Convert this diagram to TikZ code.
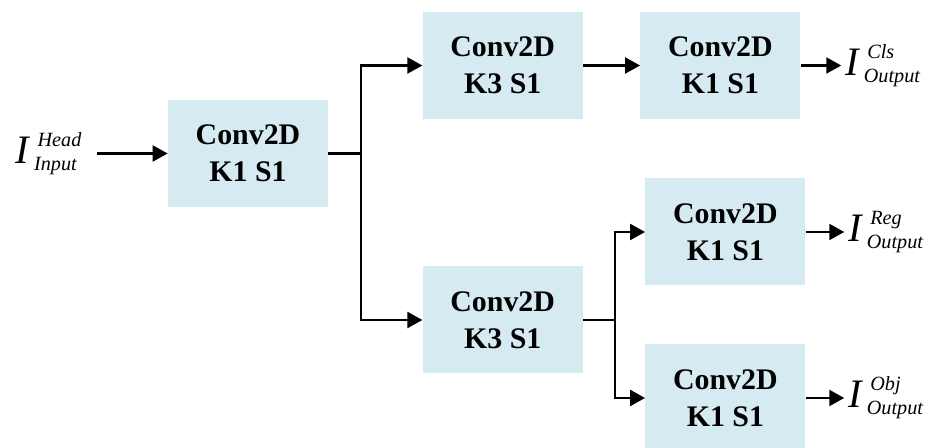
\documentclass[tikz,border=0pt]{standalone}
\usepackage{fontspec}
\setmainfont{Liberation Serif}
\usepackage{xcolor}
\usepackage{tikz}
\usetikzlibrary{positioning, arrows.meta}

\definecolor{convblue}{RGB}{213,234,241}
\newcommand{\featmap}[2]{{\fontsize{23}{23}\selectfont\itshape I}\kern3pt{\fontsize{11.5}{12}\selectfont\itshape\rlap{\kern2pt\raisebox{0.34cm}{#1}}\raisebox{-0.14cm}{#2}}}

\begin{document}
\begin{tikzpicture}[
        conv/.style={fill=convblue, minimum width=3.2cm, minimum height=2.14cm, inner sep=0pt, align=center, font=\fontsize{17}{21}\selectfont\bfseries},
        lbl/.style={inner sep=0pt},
        to/.style={-{Triangle[length=0.3cm,width=0.32cm]}, line width=0.045cm},
        ]
      \useasboundingbox (0,0) rectangle (18.68,-8.96);

      \node [conv] (conv-in) at (4.96,-3.07) {Conv2D\\K1 S1};
      \node [conv, right=1.88cm of conv-in, yshift=1.76cm] (cls-k3) {Conv2D\\K3 S1};
      \node [conv, right=1.14cm of cls-k3] (cls-k1) {Conv2D\\K1 S1};
      \node [conv, right=1.88cm of conv-in, yshift=-3.33cm] (reg-k3) {Conv2D\\K3 S1};
      \node [conv, right=1.24cm of reg-k3, yshift=1.76cm] (reg-k1) {Conv2D\\K1 S1};
      \node [conv, right=1.24cm of reg-k3, yshift=-1.56cm] (obj-k1) {Conv2D\\K1 S1};

      \node [lbl, anchor=west] (in-head) at (0.3,-3.07) {\featmap{Head}{Input}};
      \node [lbl, right=0.88cm of cls-k1] (out-cls) {\featmap{Cls}{Output}};
      \node [lbl, right=0.84cm of reg-k1] (out-reg) {\featmap{Reg}{Output}};
      \node [lbl, right=0.84cm of obj-k1] (out-obj) {\featmap{Obj}{Output}};

      \coordinate [right=0.66cm of conv-in] (split-in);
      \coordinate [right=0.64cm of reg-k3] (split-reg);

      \draw[to, shorten <=0.4cm] (in-head) -- (conv-in);
      \draw[to] (conv-in) -- (split-in) |- (cls-k3);
      \draw[to] (split-in) |- (reg-k3);
      \draw[to] (cls-k3) -- (cls-k1);
      \draw[to] (reg-k3) -- (split-reg) |- (reg-k1);
      \draw[to] (split-reg) |- (obj-k1);
      \draw[to, shorten >=2pt] (cls-k1) -- (out-cls);
      \draw[to, shorten >=2pt] (reg-k1) -- (out-reg);
      \draw[to, shorten >=2pt] (obj-k1) -- (out-obj);
    \end{tikzpicture}
\end{document}
